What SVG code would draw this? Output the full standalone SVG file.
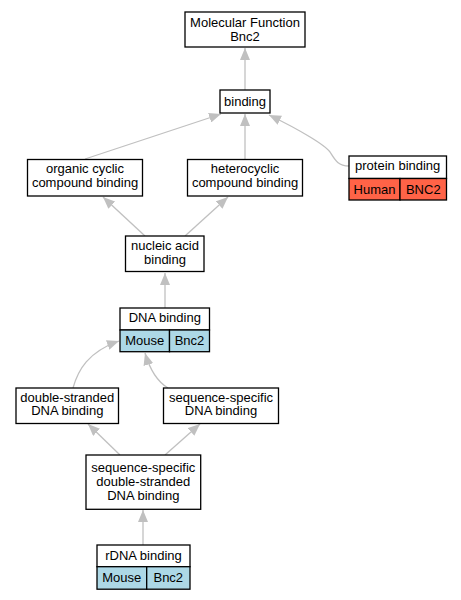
<svg xmlns="http://www.w3.org/2000/svg" width="461" height="600" viewBox="0 0 461 600">
<style>
.box{fill:#fff;stroke:#000;stroke-width:1.3}
.mouse{fill:#add8e6;stroke:#000;stroke-width:1.3}
.human{fill:#ff6347;stroke:#000;stroke-width:1.3}
text{font-family:"Liberation Sans",Arial,sans-serif;font-size:13px;text-anchor:middle;fill:#000}
.e{fill:none;stroke:#c0c0c0;stroke-width:1.3;marker-end:url(#ah)}
</style>
<defs>
<marker id="ah" markerUnits="userSpaceOnUse" markerWidth="12" markerHeight="10" refX="12" refY="5" orient="auto">
<path d="M0,0 L12,5 L0,10 z" fill="#c0c0c0"/>
</marker>
</defs>
<rect width="461" height="600" fill="#fff"/>
<g id="edges">
<path class="e" d="M245,90 L245,48"/>
<path class="e" d="M85,159 L221,114"/>
<path class="e" d="M245,159 L245,114"/>
<path class="e" d="M349,166 C338,166 335,160 330,152 C325,145 300,130 269,115"/>
<path class="e" d="M145,236 L103,197"/>
<path class="e" d="M185,236 L228,197"/>
<path class="e" d="M165,308 L165,273"/>
<path class="e" d="M73,388 C78,370 88,352 119,341"/>
<path class="e" d="M168,388 C158,382 150,370 145,353"/>
<path class="e" d="M120,455 L88,424"/>
<path class="e" d="M165,455 L200,424"/>
<path class="e" d="M143,545 L143,510"/>
</g>
<g id="mf">
<rect class="box" x="185" y="12" width="120" height="35"/>
<text x="245" y="26.5">Molecular Function</text>
<text x="245" y="40.5">Bnc2</text>
</g>
<g id="binding">
<rect class="box" x="220" y="90" width="50" height="23"/>
<text x="245" y="106">binding</text>
</g>
<g id="organic">
<rect class="box" x="27.5" y="159.5" width="115" height="36.5"/>
<text x="85" y="173.3">organic cyclic</text>
<text x="85" y="187">compound binding</text>
</g>
<g id="hetero">
<rect class="box" x="187.5" y="159.5" width="115" height="36.5"/>
<text x="245" y="173.3">heterocyclic</text>
<text x="245" y="187">compound binding</text>
</g>
<g id="protein">
<rect class="box" x="349" y="156" width="97.5" height="22.5"/>
<rect class="human" x="349" y="178.5" width="51" height="21.5"/>
<rect class="human" x="400" y="178.5" width="46.5" height="21.5"/>
<text x="397.7" y="170">protein binding</text>
<text x="374.5" y="193.5">Human</text>
<text x="423.3" y="193.5">BNC2</text>
</g>
<g id="nucleic">
<rect class="box" x="125.5" y="236" width="78.5" height="35.5"/>
<text x="165" y="250">nucleic acid</text>
<text x="165" y="263.5">binding</text>
</g>
<g id="dna">
<rect class="box" x="120" y="308" width="89.5" height="22"/>
<rect class="mouse" x="120" y="330" width="49.5" height="21.7"/>
<rect class="mouse" x="169.5" y="330" width="40" height="21.7"/>
<text x="164.8" y="322">DNA binding</text>
<text x="144.8" y="344.5">Mouse</text>
<text x="189.5" y="344.5">Bnc2</text>
</g>
<g id="ds">
<rect class="box" x="16" y="388" width="102.5" height="35.5"/>
<text x="67.3" y="401.8">double-stranded</text>
<text x="67.3" y="415">DNA binding</text>
</g>
<g id="ss">
<rect class="box" x="163.5" y="388" width="115" height="35.5"/>
<text x="221" y="401.8">sequence-specific</text>
<text x="221" y="415">DNA binding</text>
</g>
<g id="ssds">
<rect class="box" x="86" y="455" width="114.7" height="54.3"/>
<text x="143.3" y="472">sequence-specific</text>
<text x="143.3" y="485.5">double-stranded</text>
<text x="143.3" y="499.5">DNA binding</text>
</g>
<g id="rdna">
<rect class="box" x="97" y="545" width="93" height="21.7"/>
<rect class="mouse" x="97" y="566.7" width="49.7" height="22.5"/>
<rect class="mouse" x="146.7" y="566.7" width="43.3" height="22.5"/>
<text x="143.5" y="559.5">rDNA binding</text>
<text x="121.8" y="582">Mouse</text>
<text x="168.3" y="582">Bnc2</text>
</g>
</svg>
